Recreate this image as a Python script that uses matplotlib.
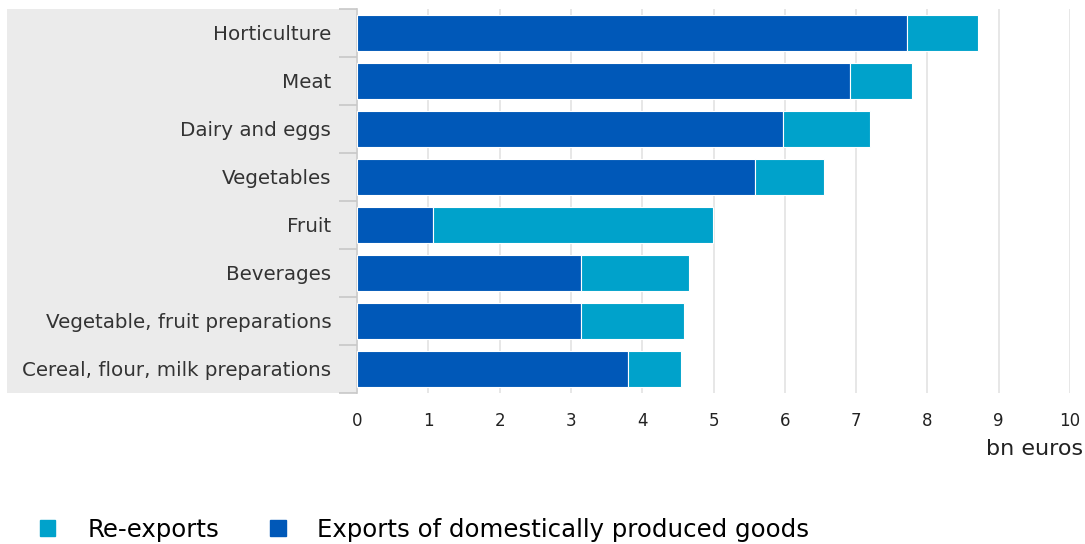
import matplotlib.pyplot as plt
from matplotlib.patches import Patch, Rectangle

categories = ["Horticulture", "Meat", "Dairy and eggs", "Vegetables", "Fruit",
              "Beverages", "Vegetable, fruit preparations", "Cereal, flour, milk preparations"]
domestic = [7.71, 6.91, 5.98, 5.58, 1.07, 3.14, 3.14, 3.80]
reexports = [1.00, 0.87, 1.22, 0.97, 3.92, 1.51, 1.45, 0.74]
xticks = list(range(0, 11))

dark = "#0058b8"
light = "#00a2cb"

plt.rcParams['font.family'] = ['DejaVu Sans']
fig = plt.figure(figsize=(10.85, 5.44), dpi=100)
top, bottom = 9, 393
ax = fig.add_axes([357 / 1085, 1 - bottom / 544, (1070 - 357) / 1085, (bottom - top) / 544])

# grey panel behind category labels
fig.patches.append(Rectangle((7 / 1085, 1 - bottom / 544), (356 - 7) / 1085, (bottom - top) / 544,
                             transform=fig.transFigure, facecolor="#ebebeb",
                             edgecolor="none", zorder=-1))

y = list(range(len(categories)))
ax.barh(y, domestic, height=0.77, color=dark, edgecolor="white", linewidth=0.8, zorder=3)
ax.barh(y, reexports, left=domestic, height=0.77, color=light, edgecolor="white",
        linewidth=0.8, zorder=3)

ax.set_ylim(7.5, -0.5)
ax.set_xlim(0, 10)
ax.set_yticks(y)
ax.set_yticklabels(categories, fontsize=14.3, color="#333333")
ax.set_yticks([i - 0.5 for i in range(len(categories) + 1)], minor=True)
ax.tick_params(axis="y", which="major", length=0, pad=18.5)
ax.tick_params(axis="y", which="minor", length=13, color="#c8c8c8", width=1.2)

ax.set_xticks(xticks)
ax.set_xticklabels([str(t) for t in xticks], fontsize=12, color="#222222")
ax.tick_params(axis="x", length=0, pad=14)
for t in xticks[1:]:
    ax.axvline(t, color="#e3e3e3", linewidth=1.2, zorder=1)

for s in ["top", "right", "bottom"]:
    ax.spines[s].set_visible(False)
ax.spines["left"].set_color("#c8c8c8")
ax.spines["left"].set_linewidth(1.2)
ax.patch.set_alpha(0)

fig.text(1083 / 1085, 1 - 449 / 544, "bn euros", ha="right", va="center", fontsize=16,
         color="#222222")

handles = [Patch(color=light), Patch(color=dark)]
fig.legend(handles, ["Re-exports", "Exports of domestically produced goods"],
           loc="center left", bbox_to_anchor=(28 / 1085, 1 - 530 / 544), ncol=2,
           frameon=False, fontsize=17.6, handlelength=0.62, handleheight=0.62,
           handletextpad=1.3, columnspacing=2.1, borderpad=0)

plt.savefig("out.png", dpi=100)
